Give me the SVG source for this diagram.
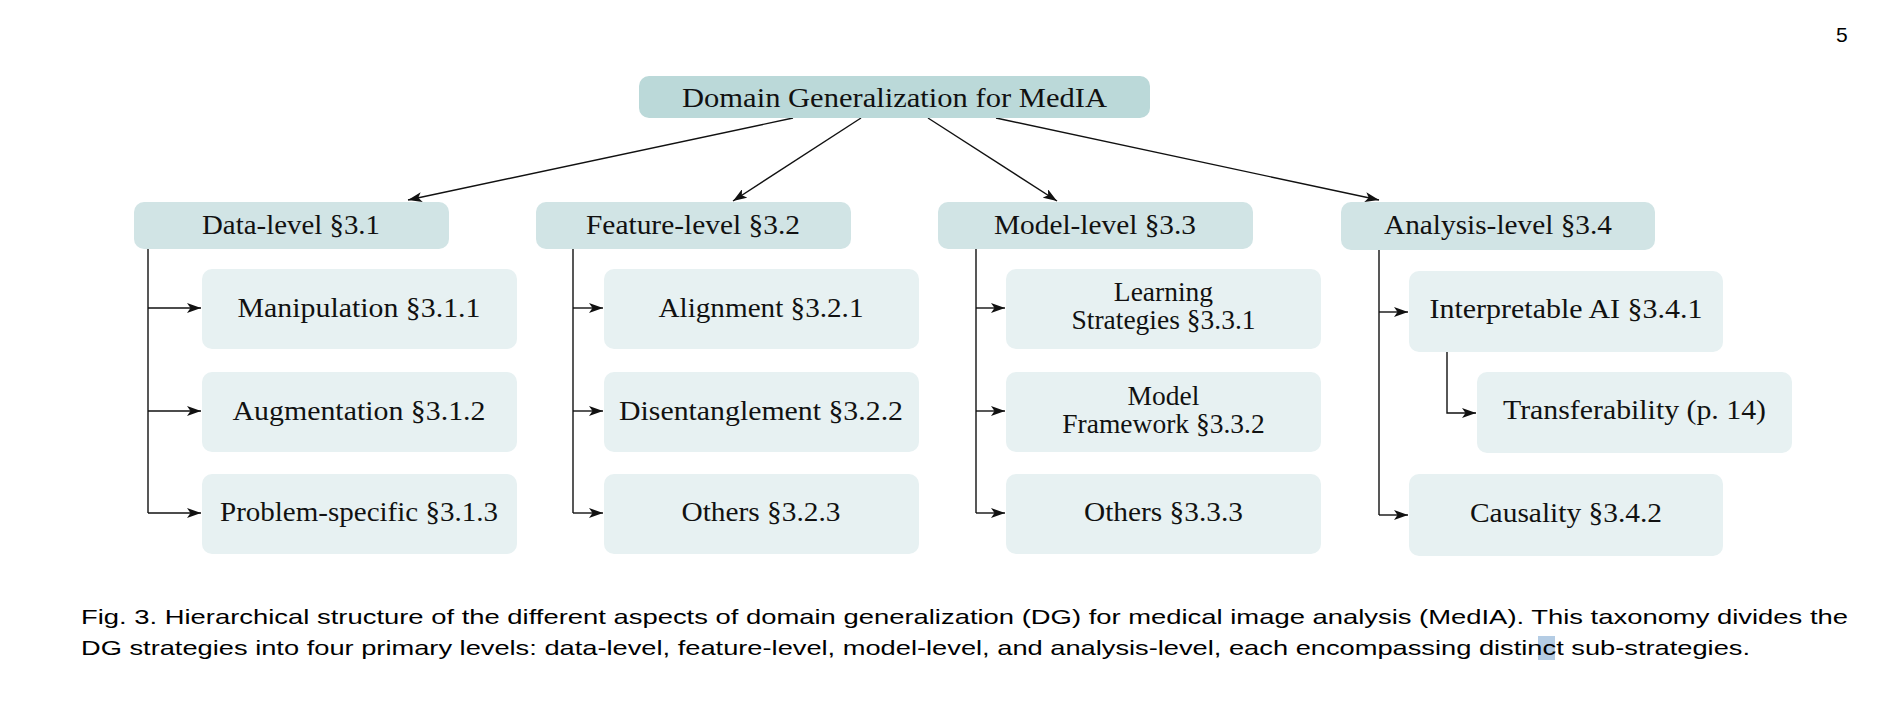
<svg xmlns="http://www.w3.org/2000/svg" width="1904" height="728" viewBox="0 0 1904 728">
<style>
.root{fill:#bbd9d9}
.lvl{fill:#d1e4e5}
.leaf{fill:#e7f1f2}
.t{font-family:"Liberation Serif","Times New Roman",serif;font-size:28px;fill:#111;text-anchor:middle}
.t2{font-size:27.5px}
.cap{font-family:"Liberation Sans",Arial,sans-serif;font-size:21px;fill:#000}
.c{fill:none;stroke:#111;stroke-width:1.4}
</style>
<defs>
<marker id="ah" viewBox="0 0 14 10" markerWidth="14" markerHeight="10" refX="14" refY="5" orient="auto" markerUnits="userSpaceOnUse">
<path d="M0,0 L14,5 L0,10 L3.5,5 Z" fill="#111"/>
</marker>
</defs>
<rect width="1904" height="728" fill="#fff"/>
<text class="cap" x="1836" y="42" font-size="20">5</text>

<g id="connectors">
<line class="c" x1="793" y1="118" x2="408" y2="200" marker-end="url(#ah)"/>
<line class="c" x1="861" y1="118" x2="733" y2="201" marker-end="url(#ah)"/>
<line class="c" x1="928" y1="118" x2="1057" y2="201" marker-end="url(#ah)"/>
<line class="c" x1="996" y1="118" x2="1379" y2="200" marker-end="url(#ah)"/>
<path class="c" d="M148,249 V513"/>
<path class="c" d="M148,308 H201" marker-end="url(#ah)"/>
<path class="c" d="M148,411 H201" marker-end="url(#ah)"/>
<path class="c" d="M148,513 H201" marker-end="url(#ah)"/>
<path class="c" d="M573,249 V513"/>
<path class="c" d="M573,308 H603" marker-end="url(#ah)"/>
<path class="c" d="M573,411 H603" marker-end="url(#ah)"/>
<path class="c" d="M573,513 H603" marker-end="url(#ah)"/>
<path class="c" d="M976,249 V513"/>
<path class="c" d="M976,308 H1005" marker-end="url(#ah)"/>
<path class="c" d="M976,411 H1005" marker-end="url(#ah)"/>
<path class="c" d="M976,513 H1005" marker-end="url(#ah)"/>
<path class="c" d="M1379,250 V515"/>
<path class="c" d="M1379,312 H1408" marker-end="url(#ah)"/>
<path class="c" d="M1379,515 H1408" marker-end="url(#ah)"/>
<path class="c" d="M1447,352 V413 H1476" marker-end="url(#ah)"/>
</g>

<g id="root">
<rect class="root" x="639" y="76" width="511" height="42" rx="10"/>
<text class="t" x="894.5" y="107" textLength="425" lengthAdjust="spacingAndGlyphs">Domain Generalization for MedIA</text>
</g>

<g id="data-level">
<rect class="lvl" x="134" y="202" width="315" height="47" rx="10"/>
<text class="t" x="291" y="234" textLength="178" lengthAdjust="spacingAndGlyphs">Data-level §3.1</text>
</g>
<g id="feature-level">
<rect class="lvl" x="536" y="202" width="315" height="47" rx="10"/>
<text class="t" x="693" y="234" textLength="214" lengthAdjust="spacingAndGlyphs">Feature-level §3.2</text>
</g>
<g id="model-level">
<rect class="lvl" x="938" y="202" width="315" height="47" rx="10"/>
<text class="t" x="1095" y="234" textLength="202" lengthAdjust="spacingAndGlyphs">Model-level §3.3</text>
</g>
<g id="analysis-level">
<rect class="lvl" x="1341" y="202" width="314" height="48" rx="10"/>
<text class="t" x="1498" y="234" textLength="228" lengthAdjust="spacingAndGlyphs">Analysis-level §3.4</text>
</g>

<g id="manipulation">
<rect class="leaf" x="202" y="269" width="315" height="80" rx="10"/>
<text class="t" x="359" y="317" textLength="243" lengthAdjust="spacingAndGlyphs">Manipulation §3.1.1</text>
</g>
<g id="augmentation">
<rect class="leaf" x="202" y="372" width="315" height="80" rx="10"/>
<text class="t" x="359" y="420" textLength="253" lengthAdjust="spacingAndGlyphs">Augmentation §3.1.2</text>
</g>
<g id="problem-specific">
<rect class="leaf" x="202" y="474" width="315" height="80" rx="10"/>
<text class="t" x="359" y="521" textLength="278" lengthAdjust="spacingAndGlyphs">Problem-specific §3.1.3</text>
</g>

<g id="alignment">
<rect class="leaf" x="604" y="269" width="315" height="80" rx="10"/>
<text class="t" x="761" y="317" textLength="205" lengthAdjust="spacingAndGlyphs">Alignment §3.2.1</text>
</g>
<g id="disentanglement">
<rect class="leaf" x="604" y="372" width="315" height="80" rx="10"/>
<text class="t" x="761" y="420" textLength="284" lengthAdjust="spacingAndGlyphs">Disentanglement §3.2.2</text>
</g>
<g id="others-feature">
<rect class="leaf" x="604" y="474" width="315" height="80" rx="10"/>
<text class="t" x="761" y="521" textLength="159" lengthAdjust="spacingAndGlyphs">Others §3.2.3</text>
</g>

<g id="learning-strategies">
<rect class="leaf" x="1006" y="269" width="315" height="80" rx="10"/>
<text class="t t2"><tspan x="1163.5" y="300.5">Learning</tspan><tspan x="1163.5" y="329">Strategies §3.3.1</tspan></text>
</g>
<g id="model-framework">
<rect class="leaf" x="1006" y="372" width="315" height="80" rx="10"/>
<text class="t t2"><tspan x="1163.5" y="404.5">Model</tspan><tspan x="1163.5" y="433">Framework §3.3.2</tspan></text>
</g>
<g id="others-model">
<rect class="leaf" x="1006" y="474" width="315" height="80" rx="10"/>
<text class="t" x="1163.5" y="521" textLength="159" lengthAdjust="spacingAndGlyphs">Others §3.3.3</text>
</g>

<g id="interpretable-ai">
<rect class="leaf" x="1409" y="271" width="314" height="81" rx="10"/>
<text class="t" x="1566" y="318" textLength="273" lengthAdjust="spacingAndGlyphs">Interpretable AI §3.4.1</text>
</g>
<g id="transferability">
<rect class="leaf" x="1477" y="372" width="315" height="81" rx="10"/>
<text class="t" x="1634.5" y="419" textLength="263" lengthAdjust="spacingAndGlyphs">Transferability (p. 14)</text>
</g>
<g id="causality">
<rect class="leaf" x="1409" y="474" width="314" height="82" rx="10"/>
<text class="t" x="1566" y="522" textLength="192" lengthAdjust="spacingAndGlyphs">Causality §3.4.2</text>
</g>

<g id="caption">
<rect x="1538" y="636" width="17" height="24" fill="#b4cce4"/>
<text class="cap" x="81" y="624" textLength="1767" lengthAdjust="spacingAndGlyphs">Fig. 3. Hierarchical structure of the different aspects of domain generalization (DG) for medical image analysis (MedIA). This taxonomy divides the</text>
<text class="cap" x="81" y="655" textLength="1669" lengthAdjust="spacingAndGlyphs">DG strategies into four primary levels: data-level, feature-level, model-level, and analysis-level, each encompassing distinct sub-strategies.</text>
</g>
</svg>
